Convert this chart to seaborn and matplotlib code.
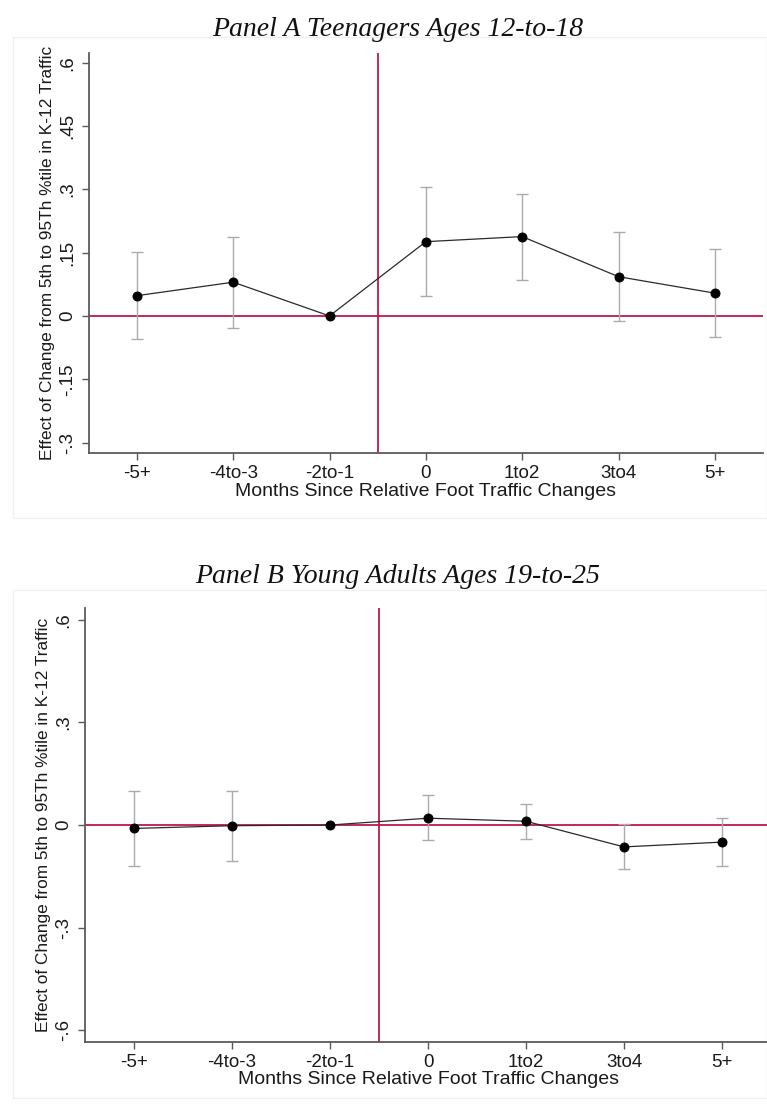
import numpy as np
import pandas as pd
import matplotlib
matplotlib.use("Agg")
import matplotlib.pyplot as plt
import seaborn as sns
from matplotlib.patches import Rectangle

# ---------------- data ----------------
periods = ["-5+", "-4to-3", "-2to-1", "0", "1to2", "3to4", "5+"]

teen_coef = [0.048, 0.080, 0.0, 0.176, 0.188, 0.093, 0.054]
teen_lo = [-0.055, -0.028, np.nan, 0.047, 0.086, -0.013, -0.050]
teen_hi = [0.151, 0.187, np.nan, 0.306, 0.288, 0.198, 0.159]
teen_yticks = [-0.3, -0.15, 0, 0.15, 0.3, 0.45, 0.6]
teen_yticklabels = ["-.3", "-.15", "0", ".15", ".3", ".45", ".6"]

young_coef = [-0.010, -0.002, 0.0, 0.020, 0.011, -0.064, -0.050]
young_lo = [-0.119, -0.104, np.nan, -0.044, -0.041, -0.130, -0.119]
young_hi = [0.100, 0.100, np.nan, 0.087, 0.061, 0.004, 0.020]
young_yticks = [-0.6, -0.3, 0, 0.3, 0.6]
young_yticklabels = ["-.6", "-.3", "0", ".3", ".6"]

titles = ["Panel A Teenagers Ages 12-to-18", "Panel B Young Adults Ages 19-to-25"]
xlabel = "Months Since Relative Foot Traffic Changes"
ylabel = "Effect of Change from 5th to 95Th %tile in K-12 Traffic"
event_break = 2.5  # between "-2to-1" and "0"

# ---------------- style ----------------
sns.set_theme(style="white")
plt.rcParams["font.family"] = ["Liberation Sans", "DejaVu Sans"]

W, H = 767, 1108
fig = plt.figure(figsize=(W / 100, H / 100), dpi=100)
fig.patch.set_facecolor("white")

RED = "#bf1650"
SPINE = "#5a5a5a"

panels = [
    dict(coef=teen_coef, lo=teen_lo, hi=teen_hi, yt=teen_yticks, ytl=teen_yticklabels,
         ylim=(-0.324, 0.623), box=(88.7, 763.0, 53.0, 452.7), title=titles[0],
         title_y=36, frame=(13, 37, 767, 518), xlab_y=491),
    dict(coef=young_coef, lo=young_lo, hi=young_hi, yt=young_yticks, ytl=young_yticklabels,
         ylim=(-0.634, 0.635), box=(85.0, 771.0, 608.0, 1041.7), title=titles[1],
         title_y=583, frame=(13, 590, 767, 1098), xlab_y=1080),
]

for p in panels:
    # faint graph-region frame
    fx0, fy0, fx1, fy1 = p["frame"]
    fig.patches.append(Rectangle((fx0 / W, 1 - fy1 / H), (fx1 - fx0) / W, (fy1 - fy0) / H,
                                 transform=fig.transFigure, facecolor="none",
                                 edgecolor="#f0f0f0", lw=1.0, zorder=-5))
    x0, x1, y0, y1 = p["box"]
    ax = fig.add_axes([x0 / W, 1 - y1 / H, (x1 - x0) / W, (y1 - y0) / H])
    ax.set_facecolor("none")
    df = pd.DataFrame({"period": periods, "coef": p["coef"], "lo": p["lo"], "hi": p["hi"]})
    xpos = np.arange(len(periods))

    # reference lines
    ax.axhline(0, color=RED, lw=1.3, zorder=1)
    ax.axvline(event_break, color=RED, lw=1.3, zorder=1)

    # confidence intervals
    m = df["lo"].notna().to_numpy()
    c = df["coef"].to_numpy()
    yerr = np.vstack([(c - df["lo"].to_numpy())[m], (df["hi"].to_numpy() - c)[m]])
    ax.errorbar(xpos[m], c[m], yerr=yerr, fmt="none", ecolor="#ababab",
                elinewidth=1.0, capsize=4.5, capthick=1.0, zorder=2)

    # point estimates
    sns.pointplot(data=df, x="period", y="coef", order=periods, color="black",
                  markers="o", markersize=6.5, linewidth=0.9, errorbar=None, ax=ax,
                  zorder=3)
    for ln in ax.lines:
        if ln.get_marker() == "o":
            ln.set_color("#2a2a2a")
            ln.set_markerfacecolor("black")
            ln.set_markeredgecolor("black")

    ax.set_xlim(-0.5, len(periods) - 0.5)
    ax.set_ylim(*p["ylim"])
    ax.set_yticks(p["yt"])
    ax.set_yticklabels(p["ytl"], rotation=90, va="center")
    ax.set_xticks(xpos)
    ax.set_xticklabels(periods)

    for s in ["top", "right"]:
        ax.spines[s].set_visible(False)
    for s in ["left", "bottom"]:
        ax.spines[s].set_color(SPINE)
        ax.spines[s].set_linewidth(1.3)
    ax.tick_params(axis="both", direction="out", length=5, width=1.0, color=SPINE,
                   labelsize=13.5, labelcolor="#1a1a1a", left=True, bottom=True)
    ax.tick_params(axis="y", pad=4)
    ax.tick_params(axis="x", pad=4)

    ax.set_xlabel(xlabel, fontsize=14, color="#1a1a1a")
    ax.xaxis.label.set_va("center")
    ax.xaxis.set_label_coords(0.5, (y1 - p["xlab_y"]) / (y1 - y0))
    ax.set_ylabel(ylabel, fontsize=12.4, color="#1a1a1a", labelpad=3)
    ax.grid(False)

    fig.text(398 / W, 1 - p["title_y"] / H, p["title"], ha="center", va="baseline",
             fontsize=20, style="italic", family=["Liberation Serif", "DejaVu Serif"],
             color="#111111")

fig.savefig("out.png", dpi=100)
